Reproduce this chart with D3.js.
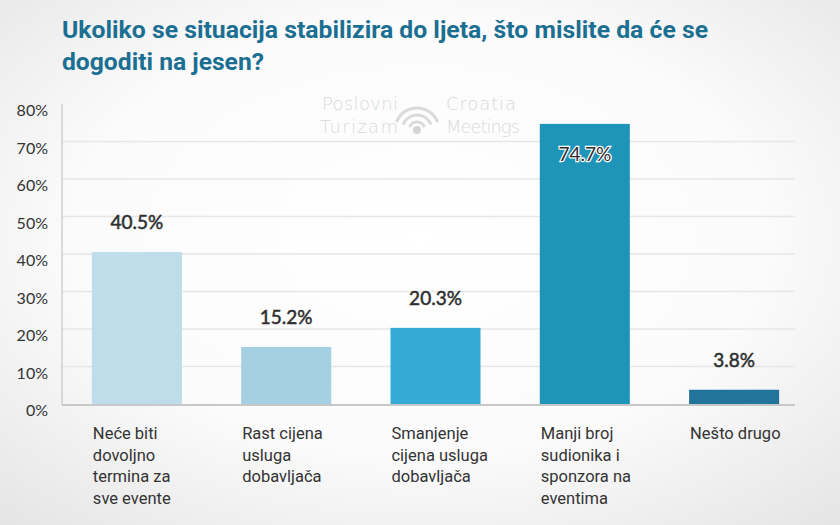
<!DOCTYPE html>
<html><head><meta charset="utf-8">
<script src="https://cdnjs.cloudflare.com/ajax/libs/d3/7.8.5/d3.min.js"></script>
<style>html,body{margin:0;padding:0;}svg{display:block;}</style>
</head><body>
<script>
const titleLines = ["Ukoliko se situacija stabilizira do ljeta, što mislite da će se", "dogoditi na jesen?"];
const categories = ["Neće biti dovoljno termina za sve evente", "Rast cijena usluga dobavljača", "Smanjenje cijena usluga dobavljača", "Manji broj sudionika i sponzora na eventima", "Nešto drugo"];
const categoryLines = [["Neće biti","dovoljno","termina za","sve evente"],["Rast cijena","usluga","dobavljača"],["Smanjenje","cijena usluga","dobavljača"],["Manji broj","sudionika i","sponzora na","eventima"],["Nešto drugo"]];
const values = [40.5, 15.2, 20.3, 74.7, 3.8];
const valueLabels = ["40.5%", "15.2%", "20.3%", "74.7%", "3.8%"];
const yTicks = [0, 10, 20, 30, 40, 50, 60, 70, 80];
const colors = ["#bcdde9", "#a5cfe2", "#36aad4", "#1e94b9", "#22749b"];

const W = 840, H = 525;
const svg = d3.select("body").append("svg").attr("width", W).attr("height", H);
const defs = svg.append("defs");
const rg = defs.append("radialGradient").attr("id","bg").attr("cx","50%").attr("cy","45%").attr("r","75%");
rg.append("stop").attr("offset","0%").attr("stop-color","#ffffff");
rg.append("stop").attr("offset","55%").attr("stop-color","#fbfbfb");
rg.append("stop").attr("offset","100%").attr("stop-color","#e4e4e4");
svg.append("rect").attr("width",W).attr("height",H).attr("fill","url(#bg)");

// title
svg.append("g").selectAll("text").data(titleLines).join("text")
  .attr("x", 62).attr("y", (d,i)=>38 + i*32)
  .attr("font-family","Roboto, 'Open Sans', sans-serif").attr("font-weight","bold")
  .attr("font-size", 24).attr("fill","#1b6f92")
  .attr("textLength",(d,i)=> i===0 ? 646 : 202).attr("lengthAdjust","spacingAndGlyphs")
  .text(d=>d);

const x = d3.scaleBand().domain(categories).range([62, 809]).paddingInner(0.397).paddingOuter(0.2);
const y = d3.scaleLinear().domain([0, 80]).range([404, 104]);

// watermark
const wm = svg.append("g").attr("fill","#dadada").attr("font-family","'DejaVu Sans', sans-serif").attr("font-weight","300").attr("font-size",18);
wm.append("text").attr("x",322).attr("y",110).attr("textLength",76).text("Poslovni");
wm.append("text").attr("x",320).attr("y",133).attr("textLength",78).text("Turizam");
wm.append("text").attr("x",446).attr("y",110).attr("textLength",70).text("Croatia");
wm.append("text").attr("x",446).attr("y",133).attr("textLength",74).text("Meetings");
const arc = d3.arc();
const ic = svg.append("g").attr("transform","translate(417,130)");
[8,15,22].forEach((r,i)=>{
  ic.append("path").attr("d", arc({innerRadius:r-1.5, outerRadius:r+1.5, startAngle:-1.2, endAngle:1.2})).attr("fill","#dadada");
});
ic.append("circle").attr("r",4).attr("fill","#d5d5d5");

// grid
svg.append("g").selectAll("line").data(yTicks.filter(t=>t>0 && t<80)).join("line")
  .attr("x1",62).attr("x2",795).attr("y1",d=>y(d)).attr("y2",d=>y(d))
  .attr("stroke","#e6e6e6").attr("stroke-width",1.5);

// y labels
svg.append("g").selectAll("text").data(yTicks).join("text")
  .attr("x",48).attr("y",d=>y(d)+12).attr("text-anchor","end")
  .attr("font-family","Lato, 'Open Sans', sans-serif").attr("font-size",16).attr("fill","#333")
  .text(d=>d+"%");

// axes lines
svg.append("line").attr("x1",62).attr("x2",62).attr("y1",104).attr("y2",405).attr("stroke","#cfcfcf").attr("stroke-width",1.5);
svg.append("line").attr("x1",62).attr("x2",795).attr("y1",405).attr("y2",405).attr("stroke","#c8c8c8").attr("stroke-width",2);

// bars
svg.append("g").selectAll("rect").data(values).join("rect")
  .attr("x",(d,i)=>x(categories[i])).attr("width",x.bandwidth())
  .attr("y",d=>y(d)).attr("height",d=>y(0)-y(d))
  .attr("fill",(d,i)=>colors[i]);

// value labels
svg.append("g").selectAll("text").data(values).join("text")
  .attr("x",(d,i)=>x(categories[i])+x.bandwidth()/2)
  .attr("y",(d,i)=> d>60 ? y(d)+37 : y(d)-23)
  .attr("text-anchor","middle")
  .attr("font-family","Lato, 'Open Sans', sans-serif").attr("font-weight","normal").attr("font-size",19)
  .attr("fill","#2e2e2e")
  .attr("stroke",d=> d>60 ? "#ffffff" : "#2e2e2e").attr("stroke-width",d=> d>60 ? 2.5 : 0.5).attr("paint-order","stroke")
  .text((d,i)=>valueLabels[i]);

// category labels
const cg = svg.append("g").attr("font-family","Roboto, 'Open Sans', sans-serif").attr("font-size",16.5).attr("fill","#333");
categoryLines.forEach((lines,i)=>{
  const t = cg.append("text").attr("x", x(categories[i])+1).attr("y", 439);
  lines.forEach((l,j)=>{
    t.append("tspan").attr("x", x(categories[i])+1).attr("dy", j===0?0:21.5).text(l);
  });
});
</script>
</body></html>
